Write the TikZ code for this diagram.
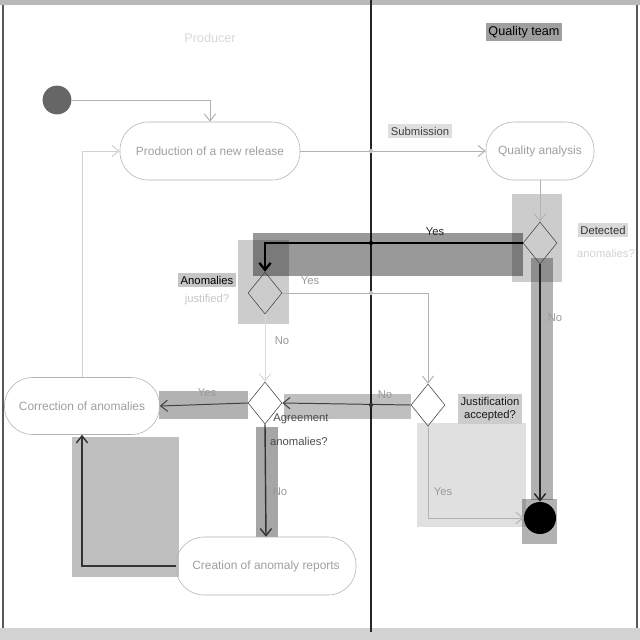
\documentclass[tikz,border=0pt]{standalone}
\usepackage{fontspec}
\setmainfont{Liberation Sans}
\usetikzlibrary{shapes.geometric,arrows.meta}
\tikzset{
  act/.style={draw=gray!60, rounded corners=0.7cm, minimum height=1.45cm, text=gray!75, font=\fontsize{8.5}{10}\selectfont, inner sep=2pt},
  dec/.style={diamond, draw=gray!55!black, minimum width=0.85cm, minimum height=1.05cm, inner sep=0pt},
  flow/.style={draw=gray!60, line width=0.7pt, -{Straight Barb[length=5pt,width=8pt]}},
  hl/.style={fill=black, draw=none},
  lab/.style={font=\fontsize{8}{9}\selectfont, text=gray!80, inner sep=1pt},
  tag/.style={font=\fontsize{8}{9}\selectfont, inner sep=2pt},
  startnode/.style={circle, fill=gray!80!black, minimum size=0.72cm, inner sep=0pt},
  endnode/.style={circle, fill=black, minimum size=0.8cm, inner sep=0pt},
  hop/.style={circle, fill=black, inner sep=0pt, minimum size=3pt}
}
\begin{document}
\begin{tikzpicture}[x=0.025cm,y=-0.025cm]
\useasboundingbox (0,0) rectangle (640,640);
% frame and lanes
\fill[white] (0,0) rectangle (640,640);
\fill[gray!55] (0,0) rectangle (640,5);
\fill[gray!35] (0,628) rectangle (640,640);
\draw[gray!70!black, line width=1pt] (3,5) -- (3,628);
\draw[gray!70!black, line width=1pt] (637,5) -- (637,628);
\draw[gray!30!black, line width=0.8pt] (371,0) -- (371,632);
\node[font=\fontsize{9}{10}\selectfont, text=gray!30] (lane1) at (210,38) {Producer};
\node[tag, fill=gray!75, font=\fontsize{9}{10}\selectfont] (lane2) at (524,32) {Quality team};
% highlight rectangles
\path[hl, fill opacity=0.4] (253,233) rectangle (523,276);
\path[hl, fill opacity=0.2] (512,194) rectangle (562,282);
\path[hl, fill opacity=0.2] (238,240) rectangle (289,324);
\path[hl, fill opacity=0.3] (531,258) rectangle (553,500);
\path[hl, fill opacity=0.3] (522,499) rectangle (557,544);
\path[hl, fill opacity=0.3] (159,391) rectangle (248,419);
\path[hl, fill opacity=0.25] (284,394) rectangle (411,419);
\path[hl, fill opacity=0.35] (256,427) rectangle (278,537);
\path[hl, fill opacity=0.25] (72,437) rectangle (179,577);
\path[hl, fill opacity=0.12] (417,423) rectangle (526,527);
% nodes
\node[startnode] (st) at (57,100) {};
\node[act, minimum width=4.5cm] (prod) at (210,151) {Production of a new release};
\node[act, minimum width=2.7cm] (qa) at (540,151) {Quality analysis};
\node[dec] (det) at (540,243) {};
\node[dec] (jus) at (265,293) {};
\node[dec] (acc) at (428,405) {};
\node[dec] (agr) at (265,403) {};
\node[act, minimum width=3.875cm, minimum height=1.425cm] (cor) at (82,406) {Correction of anomalies};
\node[act, minimum width=4.5cm] (cre) at (266,566) {Creation of anomaly reports};
\node[endnode] (en) at (540,518) {};
% connectors
\draw[flow] (st.east) -| (prod.north);
\draw[flow] (prod.east) -- (qa.west);
\draw[flow] (qa.south) -- (det.north);
\draw[flow, draw=black, line width=1.6pt] (det.west) -| (jus.north);
\draw[flow] (jus.east) -| (acc.north);
\draw[flow, draw=gray!30] (jus.south) -- (agr.north);
\draw[flow, draw=gray!50!black] (acc.west) -- (agr.east);
\draw[flow, draw=gray!50!black] (agr.west) -- (cor.east);
\draw[flow, draw=gray!40!black, line width=1pt] (agr.south) -- (cre.north);
\draw[flow, draw=gray!40!black, line width=1pt] (cre.west) -| (cor.south);
\draw[flow, draw=gray!35] (cor.north) |- (prod.west);
\draw[flow] (acc.south) |- (en.west);
\draw[flow, draw=gray!30!black, line width=1pt] (det.south) -- (en.north);
\node[hop] (h1) at (371,243) {};
\node[hop, fill=gray!50] (h2) at (371,293) {};
\node[hop, fill=gray!40!black] (h3) at (371,405) {};
\node[hop, fill=gray!50] (h4) at (371,151) {};
% labels
\node[tag, fill=gray!25, text=gray!50!black] (l1) at (420,131) {Submission};
\node[lab, text=gray!30!black] (l2) at (435,232) {Yes};
\node[tag, fill=gray!30, text=gray!40!black] (l3) at (603,230) {Detected};
\node[lab, text=gray!35] (l4) at (606,253) {anomalies?};
\node[tag, fill=gray!45, text=black] (l5) at (207,280) {Anomalies};
\node[lab, text=gray!45] (l6) at (207,300) {justified?};
\node[lab] (l7) at (310,281) {Yes};
\node[lab] (l8) at (282,341) {No};
\node[lab] (l9) at (555,318) {No};
\node[lab] (l10) at (385,395) {No};
\node[lab] (l11) at (207,393) {Yes};
\node[lab, text=gray!60!black] (l12) at (301,419) {Agreement};
\node[lab, text=gray!60!black] (l13) at (299,441) {anomalies?};
\node[lab] (l14) at (280,492) {No};
\node[lab] (l15) at (443,492) {Yes};
\node[font=\fontsize{8}{9.5}\selectfont, fill=gray!40, text=gray!20!black, align=center, inner sep=2pt] (l16) at (490,409) {Justification\\accepted?};
\end{tikzpicture}
\end{document}
